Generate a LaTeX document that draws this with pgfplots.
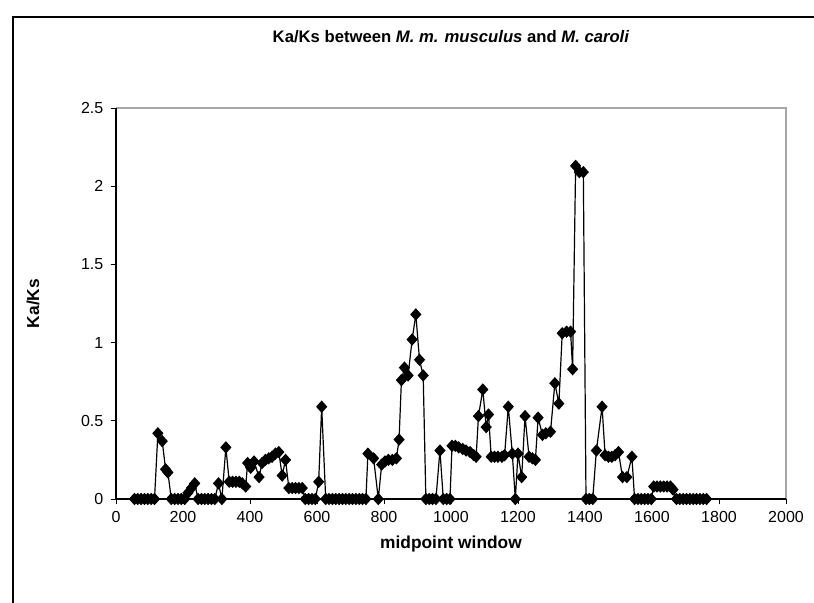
\documentclass[border=0pt]{standalone}
\usepackage{fontspec}
\setmainfont{Liberation Sans}
\usepackage{pgfplots}
\pgfplotsset{compat=1.18}

\pgfplotstableread{
x y
55 0
65 0
75 0
85 0
95 0
105 0
115 0
125 0.42
138 0.37
148 0.19
155 0.17
165 0
175 0
185 0
195 0
205 0
215 0.04
225 0.07
235 0.10
245 0
255 0
265 0
275 0
285 0
295 0
306 0.10
316 0
328 0.33
338 0.11
348 0.11
358 0.11
368 0.11
377 0.10
387 0.08
393 0.23
402 0.20
412 0.24
427 0.14
436 0.23
446 0.25
456 0.26
466 0.27
476 0.29
486 0.30
496 0.15
506 0.25
516 0.07
526 0.07
536 0.07
546 0.07
556 0.07
565 0
575 0
585 0
595 0
605 0.11
614 0.59
626 0
636 0
646 0
656 0
666 0
676 0
686 0
696 0
706 0
716 0
726 0
736 0
746 0
752 0.29
769 0.26
783 0
793 0.22
803 0.24
813 0.25
825 0.25
837 0.26
845 0.38
852 0.76
861 0.84
872 0.79
884 1.02
895 1.18
906 0.89
917 0.79
925 0
935 0
945 0
955 0
967 0.31
977 0
987 0
997 0
1003 0.34
1013 0.34
1023 0.33
1035 0.32
1045 0.31
1057 0.30
1068 0.28
1075 0.27
1082 0.53
1095 0.70
1105 0.46
1112 0.54
1120 0.27
1130 0.27
1140 0.27
1152 0.27
1160 0.28
1171 0.59
1183 0.29
1192 0
1200 0.29
1211 0.14
1221 0.53
1233 0.27
1243 0.26
1252 0.25
1260 0.52
1273 0.41
1283 0.42
1297 0.43
1310 0.74
1322 0.61
1332 1.06
1345 1.07
1357 1.07
1363 0.83
1372 2.13
1383 2.09
1395 2.09
1403 0
1413 0
1423 0
1434 0.31
1451 0.59
1460 0.28
1470 0.27
1480 0.27
1490 0.28
1500 0.30
1512 0.14
1525 0.14
1540 0.27
1548 0
1558 0
1568 0
1578 0
1588 0
1598 0
1605 0.08
1615 0.08
1625 0.08
1635 0.08
1645 0.08
1655 0.08
1663 0.06
1673 0
1683 0
1693 0
1703 0
1713 0
1723 0
1733 0
1743 0
1753 0
1763 0
}\kaks

\begin{document}
\begin{tikzpicture}
\path[use as bounding box] (-87pt,-78pt) rectangle (523.5pt,374.25pt);
\draw[black, line width=0.8pt] (-77.25pt,-100pt) -- (-77.25pt,361.5pt) -- (600pt,361.5pt);
\begin{axis}[
    scale only axis,
    width=502.5pt, height=293.25pt,
    xmin=0, xmax=2000, ymin=0, ymax=2.5,
    xtick={0,200,...,2000}, ytick={0,0.5,...,2.5},
    axis line style={draw=none},
    tick align=outside, tick pos=left,
    major tick length=4pt,
    tick style={black, line width=0.6pt},
    /pgf/number format/1000 sep={},
    /pgf/number format/assume math mode=true,
    tick label style={font=\fontsize{12}{14}\selectfont},
    xticklabel style={yshift=-2pt},
    yticklabel style={xshift=-2pt},
    title={Ka/Ks between \textit{M. m. musculus} and \textit{M. caroli}},
    title style={font=\fontsize{12.5}{15}\selectfont\bfseries, at={(0.5,1.161)}, anchor=center},
    xlabel={midpoint window},
    ylabel={Ka/Ks},
    xlabel style={font=\fontsize{13}{15}\selectfont\bfseries, at={(0.5,-0.115)}, anchor=center},
    ylabel style={font=\fontsize{13}{15}\selectfont\bfseries, at={(-0.124,0.5)}, anchor=center, rotate=0},
    clip=false,
]
\draw[gray!70, line width=0.8pt] (rel axis cs:0,1) -- (rel axis cs:1,1) -- (rel axis cs:1,0);
\draw[black, line width=0.8pt] (rel axis cs:0,1) -- (rel axis cs:0,0) -- (rel axis cs:1,0);
\addplot[black, line width=0.9pt, mark=diamond*, mark size=4pt,
    mark options={xscale=1.2, solid, fill=black}] table[x=x, y=y] {\kaks};
\end{axis}
\end{tikzpicture}
\end{document}
